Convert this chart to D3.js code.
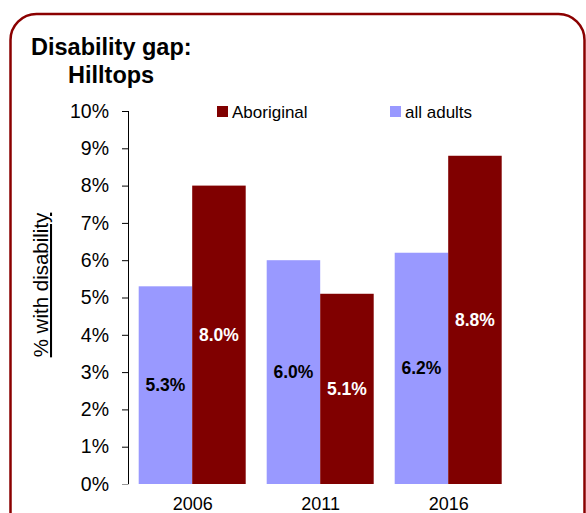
<!DOCTYPE html>
<html><head><meta charset="utf-8">
<script src="https://cdn.jsdelivr.net/npm/d3@7"></script>
<style>body{margin:0;background:#fff;}svg{display:block;}text{font-family:"Liberation Sans",Arial,sans-serif;}</style>
</head><body>
<svg id="c" width="586" height="513"></svg>
<script>
const years = ["2006", "2011", "2016"];
const seriesNames = ["all adults", "Aboriginal"];
const allAdults = [5.3, 6.0, 6.2];
const aboriginal = [8.0, 5.1, 8.8];
const yTicks = [0,1,2,3,4,5,6,7,8,9,10];
const legendOrder = ["Aboriginal", "all adults"];
const colors = {"all adults": "#9999FF", "Aboriginal": "#800000"};
const labelColors = {"all adults": "#000", "Aboriginal": "#fff"};

const svg = d3.select("#c");
// frame
svg.append("rect").attr("x",10.5).attr("y",14).attr("width",574).attr("height",530)
  .attr("rx",26).attr("ry",26).attr("fill","#fff").attr("stroke","#8B0000").attr("stroke-width",2.5);

// title
svg.append("text").attr("x",31).attr("y",55).attr("font-size",23.5).attr("font-weight","bold").text("Disability gap:");
svg.append("text").attr("x",68).attr("y",83).attr("font-size",23.5).attr("font-weight","bold").text("Hilltops");

const y = d3.scaleLinear().domain([0,10]).range([484,111]);
const x0 = d3.scaleBand().domain(years).range([128.7,512.7]).padding(0);
const x1 = d3.scaleBand().domain(seriesNames).range([10,117]).padding(0);

// y axis
const yAxis = d3.axisLeft(y).tickValues(yTicks).tickFormat(d=>d+"%").tickSize(6).tickPadding(13);
const ga = svg.append("g").attr("transform","translate(128,0)").call(yAxis);
ga.select(".domain").attr("d","M0.5,"+y(10)+"V"+y(0)).attr("stroke","#000");
ga.selectAll(".tick line").attr("stroke",d=>d===0?"#999":"#000").attr("x1",0.5).attr("x2",-6);
ga.selectAll(".tick text").attr("font-size",19.5).attr("fill","#000").attr("font-family","Liberation Sans, Arial, sans-serif");

// y title
svg.append("text").attr("transform","translate(48,285) rotate(-90)").attr("text-anchor","middle")
  .attr("font-size",20.5).attr("text-decoration","underline").text("% with disability");

// bars
const data = years.map((yr,i)=>({year:yr, vals:[{s:"all adults",v:allAdults[i]},{s:"Aboriginal",v:aboriginal[i]}]}));
const g = svg.append("g");
const grp = g.selectAll("g.grp").data(data).join("g").attr("transform",d=>`translate(${x0(d.year)},0)`);
grp.selectAll("rect").data(d=>d.vals).join("rect")
  .attr("x",d=>x1(d.s)).attr("width",x1.bandwidth())
  .attr("y",d=>y(d.v)).attr("height",d=>y(0)-y(d.v)).attr("fill",d=>colors[d.s]);
grp.selectAll("text").data(d=>d.vals).join("text")
  .attr("x",d=>x1(d.s)+x1.bandwidth()/2).attr("y",d=>y(d.v/2)).attr("dy","0.35em")
  .attr("text-anchor","middle").attr("font-size",17.5).attr("font-weight","bold")
  .attr("fill",d=>labelColors[d.s]).text(d=>d.v.toFixed(1)+"%");

// x labels
svg.append("g").selectAll("text").data(years).join("text")
  .attr("x",d=>x0(d)+x0.bandwidth()/2).attr("y",510).attr("text-anchor","middle")
  .attr("font-size",18).text(d=>d);

// legend
const legX = {"Aboriginal":217, "all adults":390};
const lg = svg.append("g").selectAll("g").data(legendOrder).join("g").attr("transform",d=>`translate(${legX[d]},106)`);
lg.append("rect").attr("width",11).attr("height",11).attr("fill",d=>colors[d]);
lg.append("text").attr("x",15).attr("y",12).attr("font-size",17).text(d=>d);
</script>
</body></html>
